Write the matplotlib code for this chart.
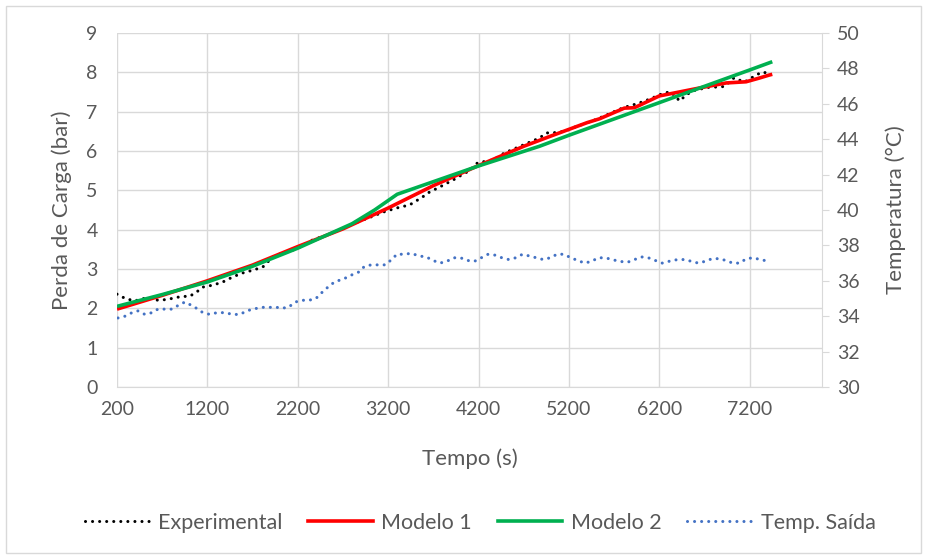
import matplotlib
matplotlib.use("Agg")
import matplotlib.pyplot as plt
from matplotlib.patches import Rectangle
from matplotlib.lines import Line2D

plt.rcParams['font.family'] = ['Lato', 'DejaVu Sans']

# Pressure drop (bar) versus time (s)
exp_t = [200, 255, 322, 399, 476, 543, 620, 697, 786, 863, 929, 1007, 1084, 1150,
         1261, 1371, 1482, 1592, 1703, 1813, 1924, 2034, 2145, 2222, 2366, 2520,
         2664, 2797, 2950, 3150, 3294, 3438, 3581, 3637, 3800, 3957, 4012, 4100,
         4189, 4355, 4487, 4620, 4742, 4874, 4952, 5018, 5150, 5280, 5394, 5500,
         5650, 5800, 5950, 6050, 6145, 6255, 6333, 6377, 6432, 6488, 6600, 6750,
         6886, 6930, 6996, 7029, 7140, 7272, 7338, 7394]
exp_dp = [2.36, 2.29, 2.23, 2.19, 2.24, 2.27, 2.21, 2.21, 2.24, 2.28, 2.30, 2.31,
          2.42, 2.54, 2.59, 2.67, 2.80, 2.90, 2.97, 3.05, 3.31, 3.41, 3.48, 3.56,
          3.74, 3.86, 3.99, 4.14, 4.27, 4.45, 4.55, 4.63, 4.83, 4.93, 5.12, 5.31,
          5.39, 5.50, 5.70, 5.77, 5.95, 6.08, 6.20, 6.33, 6.46, 6.46, 6.50, 6.62,
          6.71, 6.80, 6.95, 7.10, 7.20, 7.28, 7.37, 7.48, 7.50, 7.37, 7.27, 7.42,
          7.55, 7.62, 7.63, 7.65, 7.81, 7.86, 7.75, 7.93, 8.01, 7.98]

m1_t = [200, 700, 1200, 1700, 2200, 2700, 3200, 3700, 4200, 4700, 5000, 5400,
        5540, 5813, 5924, 6200, 6640, 6940, 7160, 7300, 7415, 7450]
m1_dp = [1.98, 2.33, 2.70, 3.10, 3.57, 4.02, 4.55, 5.12, 5.63, 6.12, 6.38, 6.72,
         6.82, 7.09, 7.10, 7.40, 7.60, 7.73, 7.76, 7.85, 7.93, 7.95]

m2_t = [200, 700, 1200, 1700, 2200, 2800, 3050, 3300, 3700, 4200, 4874, 5200,
        6200, 7200, 7450]
m2_dp = [2.05, 2.35, 2.67, 3.07, 3.53, 4.15, 4.50, 4.90, 5.22, 5.62, 6.12, 6.40,
         7.23, 8.06, 8.27]

# Outlet temperature (°C)
temp_t = [211, 288, 366, 432, 509, 587, 653, 730, 808, 874, 951, 1029, 1095, 1150,
          1228, 1305, 1393, 1482, 1559, 1637, 1703, 1802, 1869, 1968, 2020, 2096,
          2172, 2249, 2325, 2401, 2459, 2535, 2611, 2706, 2782, 2877, 2935, 3011,
          3087, 3164, 3240, 3296, 3373, 3456, 3545, 3621, 3697, 3773, 3849, 3925,
          4001, 4077, 4154, 4230, 4306, 4382, 4459, 4535, 4611, 4687, 4764, 4840,
          4916, 4992, 5069, 5145, 5221, 5297, 5374, 5450, 5526, 5602, 5679, 5755,
          5850, 5926, 6002, 6079, 6155, 6231, 6307, 6402, 6479, 6555, 6631, 6707,
          6784, 6860, 6936, 7012, 7088, 7164, 7240, 7316, 7412]
temp_c = [33.9, 34.0, 34.2, 34.3, 34.1, 34.2, 34.4, 34.4, 34.4, 34.6, 34.8, 34.6,
          34.4, 34.2, 34.1, 34.2, 34.2, 34.1, 34.1, 34.3, 34.4, 34.5, 34.5, 34.5,
          34.45, 34.5, 34.8, 34.9, 34.9, 35.0, 35.3, 35.65, 35.95, 36.1, 36.3, 36.5,
          36.8, 36.9, 36.9, 36.9, 37.2, 37.5, 37.5, 37.55, 37.4, 37.35, 37.15, 37.0,
          37.1, 37.3, 37.3, 37.15, 37.1, 37.3, 37.5, 37.45, 37.3, 37.2, 37.3, 37.5,
          37.4, 37.3, 37.2, 37.3, 37.5, 37.5, 37.3, 37.15, 37.0, 37.1, 37.3, 37.3,
          37.2, 37.1, 37.05, 37.2, 37.35, 37.3, 37.15, 37.0, 37.1, 37.2, 37.2, 37.1,
          37.0, 37.1, 37.25, 37.25, 37.15, 37.0, 37.0, 37.25, 37.3, 37.2, 37.1]

x_ticks = [200, 1200, 2200, 3200, 4200, 5200, 6200, 7200]
y_ticks = list(range(0, 10))
y2_ticks = list(range(30, 51, 2))

TEXT = '#595959'
GRID = '#d9d9d9'
C_EXP = '#000000'
C_M1 = '#ff0000'
C_M2 = '#00b050'
C_T = '#4472c4'

fig = plt.figure(figsize=(9.26, 5.58), dpi=100)
fig.patches.append(Rectangle((6 / 926, 5 / 558), 915 / 926, 547 / 558,
                             transform=fig.transFigure, fill=False,
                             edgecolor='#d9d9d9', linewidth=1.0))

ax = fig.add_axes([117 / 926, 1 - 387 / 558, 705 / 926, 354 / 558])
ax2 = ax.twinx()

dot = (0, (0.01, 2.3))
l_exp, = ax.plot(exp_t, exp_dp, color=C_EXP, lw=2.2, linestyle=dot,
                 dash_capstyle='round', zorder=3)
l_m1, = ax.plot(m1_t, m1_dp, color=C_M1, lw=2.6, zorder=4,
                solid_capstyle='butt')
l_m2, = ax.plot(m2_t, m2_dp, color=C_M2, lw=2.6, zorder=5,
                solid_capstyle='butt')
l_t, = ax2.plot(temp_t, temp_c, color=C_T, lw=2.2, linestyle=dot,
                dash_capstyle='round')

ax.set_xlim(200, 8000)
ax.set_ylim(0, 9)
ax2.set_ylim(30, 50)
ax.set_xticks(x_ticks)
ax.set_yticks(y_ticks)
ax2.set_yticks(y2_ticks)

ax.grid(True, color=GRID, linewidth=1.0)
ax.set_axisbelow(True)
for a in (ax, ax2):
    for s in a.spines.values():
        s.set_visible(False)
ax.spines['bottom'].set_visible(True)
ax.spines['bottom'].set_color(GRID)
ax2.spines['right'].set_visible(True)
ax2.spines['right'].set_color(GRID)

ax.tick_params(axis='both', length=0, labelsize=14, labelcolor=TEXT, pad=10)
ax.tick_params(axis='y', pad=14)
ax2.tick_params(axis='y', length=5, color=GRID, labelsize=14, labelcolor=TEXT, pad=6)

ax.set_xlabel('Tempo (s)', fontsize=16, color=TEXT, labelpad=22)
ax.set_ylabel('Perda de Carga (bar)', fontsize=16, color=TEXT, labelpad=10)
ax2.set_ylabel('Temperatura (°C)', fontsize=16, color=TEXT, labelpad=18)

handles = [
    Line2D([], [], color=C_EXP, lw=2.2, linestyle=dot, dash_capstyle='round'),
    Line2D([], [], color=C_M1, lw=2.6),
    Line2D([], [], color=C_M2, lw=2.6),
    Line2D([], [], color=C_T, lw=2.2, linestyle=dot, dash_capstyle='round'),
]
labels = ['Experimental', 'Modelo 1', 'Modelo 2', 'Temp. Saída']
fig.legend(handles, labels, loc='center', bbox_to_anchor=(480 / 926, 1 - 523 / 558),
           ncol=4, frameon=False, fontsize=15.5, labelcolor=TEXT,
           handlelength=3.0, handletextpad=0.4, columnspacing=1.2)

fig.savefig('out.png', dpi=100)
